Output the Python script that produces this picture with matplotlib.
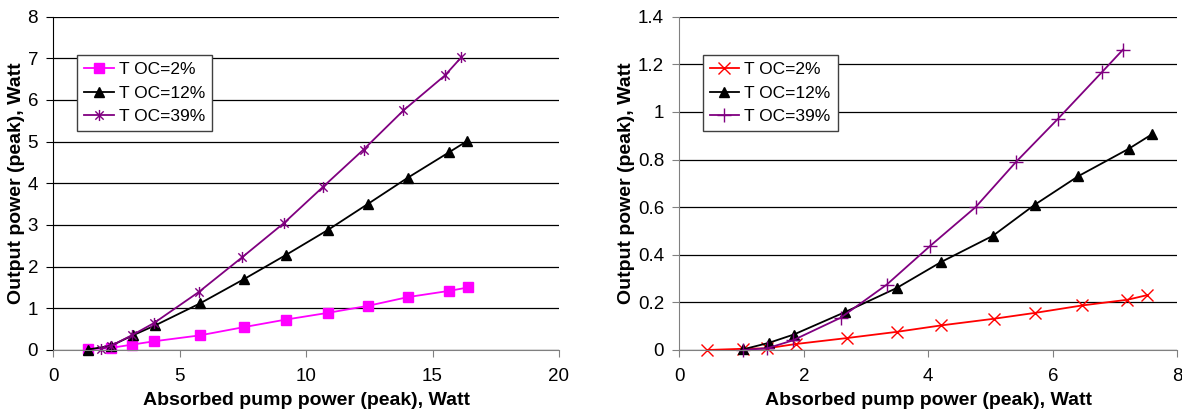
import matplotlib
matplotlib.use("Agg")
import matplotlib.pyplot as plt
from matplotlib.path import Path

plt.rcParams['font.family'] = ['Liberation Sans', 'DejaVu Sans']

# left chart data
x2_l = [1.36, 2.28, 3.13, 4.0, 5.79, 7.55, 9.2, 10.85, 12.45, 14.03, 15.67, 16.4]
y2_l = [0.02, 0.05, 0.13, 0.21, 0.35, 0.55, 0.73, 0.89, 1.06, 1.27, 1.42, 1.50]
x12_l = [1.36, 2.28, 3.14, 4.03, 5.81, 7.54, 9.2, 10.86, 12.43, 14.01, 15.64, 16.38]
y12_l = [0.01, 0.1, 0.35, 0.59, 1.12, 1.70, 2.28, 2.88, 3.50, 4.13, 4.74, 5.02]
x39_l = [1.87, 2.28, 3.13, 3.99, 5.75, 7.46, 9.13, 10.66, 12.27, 13.85, 15.49, 16.13]
y39_l = [0.02, 0.1, 0.36, 0.65, 1.39, 2.22, 3.05, 3.91, 4.81, 5.75, 6.59, 7.02]

# right chart data
x2_r = [0.45, 1.03, 1.41, 1.87, 2.69, 3.49, 4.2, 5.05, 5.72, 6.47, 7.2, 7.51]
y2_r = [0.0, 0.005, 0.007, 0.025, 0.05, 0.076, 0.103, 0.131, 0.156, 0.187, 0.211, 0.23]
x12_r = [1.03, 1.44, 1.84, 2.67, 3.49, 4.21, 5.04, 5.71, 6.41, 7.22, 7.6]
y12_r = [0.003, 0.03, 0.065, 0.16, 0.26, 0.37, 0.48, 0.61, 0.73, 0.845, 0.907]
x39_r = [1.03, 1.41, 1.82, 2.59, 3.33, 4.03, 4.76, 5.41, 6.08, 6.79, 7.13]
y39_r = [0.0, 0.007, 0.04, 0.135, 0.274, 0.437, 0.60, 0.79, 0.97, 1.167, 1.262]

labels = ["T OC=2%", "T OC=12%", "T OC=39%"]
xlabel = "Absorbed pump power (peak), Watt"
ylabel = "Output power (peak), Watt"

# excel style asterisk: vertical bar plus an x
star = Path([(0, -1), (0, 1), (-0.75, -0.75), (0.75, 0.75), (-0.75, 0.75), (0.75, -0.75)],
            [Path.MOVETO, Path.LINETO, Path.MOVETO, Path.LINETO, Path.MOVETO, Path.LINETO])

fig = plt.figure(figsize=(11.82, 4.09), dpi=100)
ax1 = fig.add_axes([0.0451, 0.1443, 0.4278, 0.815])
ax2 = fig.add_axes([0.5747, 0.1443, 0.4213, 0.815])

ax1.plot(x2_l, y2_l, color="#FF00FF", lw=1.3, marker="s", ms=7, label=labels[0])
ax1.plot(x12_l, y12_l, color="black", lw=1.3, marker="^", ms=7.5, label=labels[1])
ax1.plot(x39_l, y39_l, color="#800080", lw=1.3, marker=star, ms=8, mfc="none",
         mec="#800080", mew=1.0, label=labels[2])

ax2.plot(x2_r, y2_r, color="#FF0000", lw=1.3, marker="x", ms=8, mew=1.0, label=labels[0])
ax2.plot(x12_r, y12_r, color="black", lw=1.3, marker="^", ms=7.5, label=labels[1])
ax2.plot(x39_r, y39_r, color="#800080", lw=1.3, marker="+", ms=10, mew=1.0, label=labels[2])

ax1.set_xlim(0, 20)
ax1.set_ylim(0, 8)
ax1.set_xticks([0, 5, 10, 15, 20])
ax1.set_yticks(range(0, 9))

ax2.set_xlim(0, 8)
ax2.set_ylim(0, 1.4)
ax2.set_xticks([0, 2, 4, 6, 8])
ax2.set_yticks([0, 0.2, 0.4, 0.6, 0.8, 1.0, 1.2, 1.4])
ax2.set_yticklabels(["0", "0.2", "0.4", "0.6", "0.8", "1", "1.2", "1.4"])

for ax, ycol in [(ax1, "black"), (ax2, "#808080")]:
    ax.yaxis.grid(True, color="black", lw=0.9)
    ax.set_axisbelow(True)
    ax.spines["top"].set_visible(False)
    ax.spines["right"].set_visible(False)
    ax.spines["bottom"].set_color("#808080")
    ax.spines["left"].set_color(ycol)
    ax.tick_params(axis="both", direction="out", length=5, labelsize=13.5)
    ax.tick_params(axis="x", colors="#808080", labelcolor="black", pad=8)
    ax.tick_params(axis="y", colors=ycol, labelcolor="black", pad=6)
    ax.set_xlabel(xlabel, fontsize=14, fontweight="bold", labelpad=5)
    ax.set_ylabel(ylabel, fontsize=14, fontweight="bold", labelpad=2)
    leg = ax.legend(loc="upper left", bbox_to_anchor=(0.047, 0.886), fontsize=12.5,
                    frameon=True, fancybox=False, framealpha=1, edgecolor="#404040",
                    handlelength=1.7, handletextpad=0.3, borderpad=0.4, labelspacing=0.5,
                    borderaxespad=0)
    leg.get_frame().set_linewidth(1.0)

for line in ax1.lines + ax2.lines:
    line.set_clip_on(False)

fig.savefig("out.png", dpi=100)
